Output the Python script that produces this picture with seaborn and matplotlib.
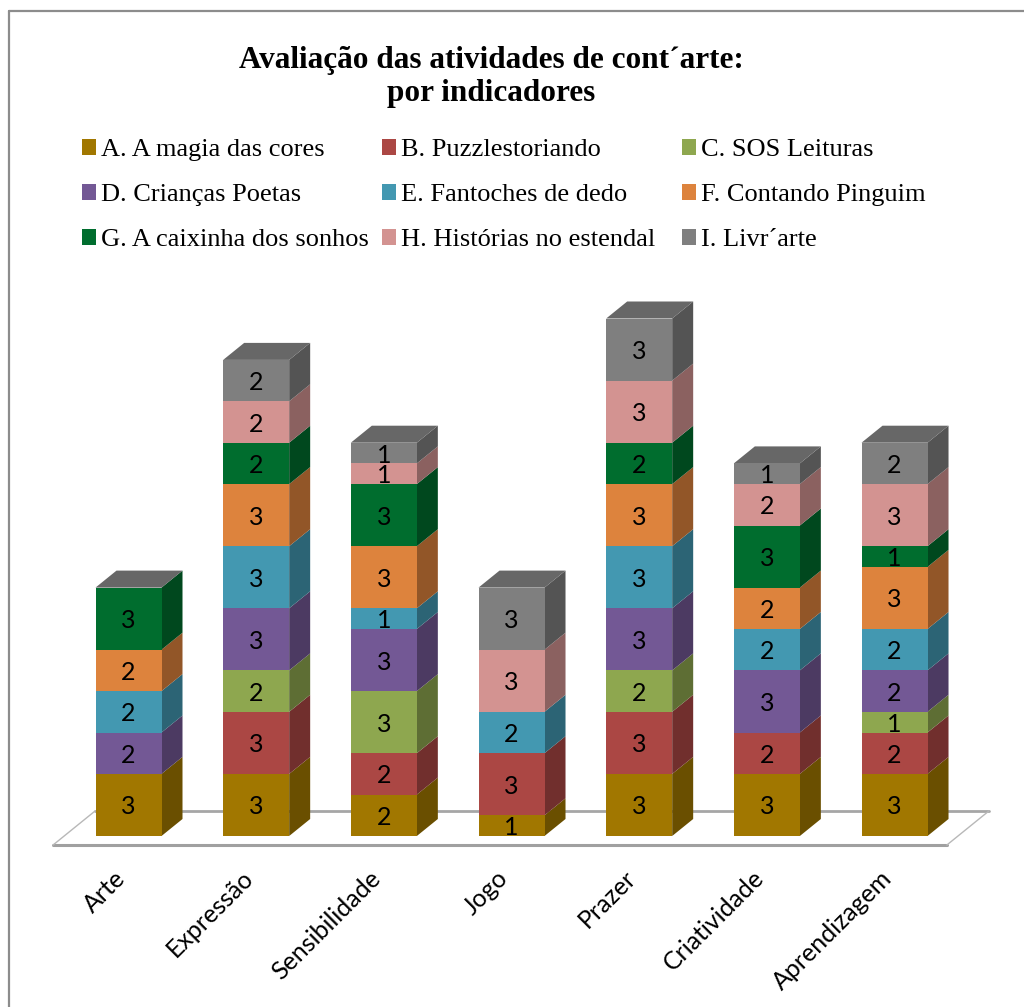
import numpy as np
import pandas as pd
import seaborn as sns
import matplotlib
matplotlib.use("Agg")
import matplotlib.pyplot as plt
import matplotlib.transforms as mtrans
from matplotlib.patches import Polygon, Patch
from matplotlib.lines import Line2D
from matplotlib.font_manager import FontProperties

# ---------------- data ----------------
categorias = ["Arte", "Expressão", "Sensibilidade", "Jogo", "Prazer", "Criatividade", "Aprendizagem"]
series_nomes = [
    "A. A magia das cores", "B. Puzzlestoriando", "C. SOS Leituras",
    "D. Crianças Poetas", "E. Fantoches de dedo", "F. Contando Pinguim",
    "G. A caixinha dos sonhos", "H. Histórias no estendal", "I. Livr´arte",
]
serie_A = [3, 3, 2, 1, 3, 3, 3]
serie_B = [0, 3, 2, 3, 3, 2, 2]
serie_C = [0, 2, 3, 0, 2, 0, 1]
serie_D = [2, 3, 3, 0, 3, 3, 2]
serie_E = [2, 3, 1, 2, 3, 2, 2]
serie_F = [2, 3, 3, 0, 3, 2, 3]
serie_G = [3, 2, 3, 0, 2, 3, 1]
serie_H = [0, 2, 1, 3, 3, 2, 3]
serie_I = [0, 2, 1, 3, 3, 1, 2]
valores = [serie_A, serie_B, serie_C, serie_D, serie_E, serie_F, serie_G, serie_H, serie_I]

cores = ["#A17700", "#AB4744", "#8EA74F", "#735895", "#4398B1",
         "#DD833D", "#006D2E", "#D39391", "#7F7F7F"]

# ---------------- styling ----------------
sns.set_style("white")
plt.rcParams["font.family"] = ["Lato", "DejaVu Sans"]
plt.rcParams["text.color"] = "black"
plt.rcParams["xtick.color"] = "black"
plt.rcParams["xtick.labelcolor"] = "black"

W, H = 1024, 1007
fig = plt.figure(figsize=(W / 100, H / 100), dpi=100)

# axes placement (pixel geometry of plot area)
ax_l, ax_r, ax_t, ax_b = 30, 1000, 280, 860
ax = fig.add_axes([ax_l / W, 1 - ax_b / H, (ax_r - ax_l) / W, (ax_b - ax_t) / H])

x0_px, step_px = 128.5, 127.67   # category centre / spacing in px
base_px, unit_px = 836.0, 20.7   # baseline / px per unit

bar_w = 66 / step_px
dep_x = 21 / step_px
dep_y = 17 / unit_px

n = len(categorias)
vals = np.array(valores, dtype=float)          # series x categories
cum = np.cumsum(vals, axis=0)
bottoms = cum - vals

def shade(c, f):
    r, g, b = matplotlib.colors.to_rgb(c)
    return (r * f, g * f, b * f)

# ---------------- front faces (seaborn) ----------------
for s in range(len(valores) - 1, -1, -1):
    df = pd.DataFrame({"categoria": categorias, "cum": cum[s]})
    sns.barplot(data=df, x="categoria", y="cum", order=categorias, color=cores[s],
                saturation=1, width=bar_w, errorbar=None, linewidth=0, ax=ax, zorder=2)

ax.set_xlim((ax_l - x0_px) / step_px, (ax_r - x0_px) / step_px)
ax.set_ylim((base_px - ax_b) / unit_px, (base_px - ax_t) / unit_px)

# ---------------- floor ----------------
xs = np.arange(n)
fl_front_y = -0.53 * dep_y
fl_back_y = fl_front_y + 2 * dep_y
fl_left = xs[0] - 0.591
fl_right = xs[-1] + 0.41
floor = Polygon([(fl_left, fl_front_y), (fl_right, fl_front_y),
                 (fl_right + 2 * dep_x, fl_back_y), (fl_left + 2 * dep_x, fl_back_y)],
                closed=True, facecolor="white", edgecolor="none", zorder=0.5)
ax.add_patch(floor)
ax.add_line(Line2D([fl_left, fl_right], [fl_front_y] * 2, color="#A0A0A0", lw=2.2, zorder=0.6))
ax.add_line(Line2D([fl_left + 2 * dep_x, fl_right + 2 * dep_x], [fl_back_y] * 2, color="#A6A6A6", lw=2.0, zorder=0.6))
ax.add_line(Line2D([fl_left, fl_left + 2 * dep_x], [fl_front_y, fl_back_y], color="#B8B8B8", lw=1.0, zorder=0.6))
ax.add_line(Line2D([fl_right, fl_right + 2 * dep_x], [fl_front_y, fl_back_y], color="#B8B8B8", lw=1.0, zorder=0.6))

# ---------------- side & top faces ----------------
for i in range(n):
    xr = xs[i] + bar_w / 2
    xl = xs[i] - bar_w / 2
    for s in range(len(valores)):
        v = vals[s, i]
        if v <= 0:
            continue
        y0, y1 = bottoms[s, i], cum[s, i]
        side = Polygon([(xr, y0), (xr + dep_x, y0 + dep_y), (xr + dep_x, y1 + dep_y), (xr, y1)],
                       closed=True, facecolor=shade(cores[s], 0.66), edgecolor="none", zorder=1.9)
        ax.add_patch(side)
        ax.text(xs[i], (y0 + y1) / 2, f"{int(v)}", ha="center", va="center_baseline",
                fontsize=18, color="black", zorder=5)
    top = cum[-1, i]
    ax.add_patch(Polygon([(xl, top), (xl + dep_x, top + dep_y), (xr + dep_x, top + dep_y), (xr, top)],
                         closed=True, facecolor="#676767", edgecolor="none", zorder=1.9))

# ---------------- axes cosmetics ----------------
ax.set_xticks(xs)
ax.set_xticklabels(categorias, rotation=45, ha="right", rotation_mode="anchor",
                   fontsize=18, family=["Lato", "DejaVu Sans"], color="black")
ax.tick_params(axis="x", length=0, pad=3)
shift = mtrans.ScaledTranslation(-15 / 100, -2 / 100, fig.dpi_scale_trans)
for lab in ax.get_xticklabels():
    lab.set_transform(lab.get_transform() + shift)
ax.set_yticks([])
ax.set_xlabel("")
ax.set_ylabel("")
for sp in ax.spines.values():
    sp.set_visible(False)
ax.patch.set_alpha(0)

# ---------------- title ----------------
fig.text(491 / W, 1 - 46 / H, "Avaliação das atividades de cont´arte:\npor indicadores",
         ha="center", va="top", fontsize=22.5, fontweight="bold", color="black",
         family=["Liberation Serif", "DejaVu Serif"], linespacing=1.2)

# ---------------- legend (3 columns) ----------------
prop = FontProperties(family="Liberation Serif", size=19)
col_x = [82, 382, 682]
for c in range(3):
    idx = [c, c + 3, c + 6]
    handles = [Patch(facecolor=cores[k], edgecolor="none", label=series_nomes[k]) for k in idx]
    fig.legend(handles=handles, loc="upper left",
               bbox_to_anchor=(col_x[c] / W, 1 - 139 / H), bbox_transform=fig.transFigure,
               frameon=False, borderpad=0, borderaxespad=0, handlelength=0.53, handleheight=0.53,
               handletextpad=0.19, labelspacing=0.87, prop=prop, labelcolor="black")

# ---------------- outer border (left & top) ----------------
fig.add_artist(Line2D([8.5 / W, 8.5 / W], [0, 1 - 10.5 / H], transform=fig.transFigure,
                      color="#8C8C8C", lw=1.6))
fig.add_artist(Line2D([8.5 / W, 1], [1 - 10.5 / H, 1 - 10.5 / H], transform=fig.transFigure,
                      color="#8C8C8C", lw=1.6))

fig.savefig("out.png", dpi=100)
